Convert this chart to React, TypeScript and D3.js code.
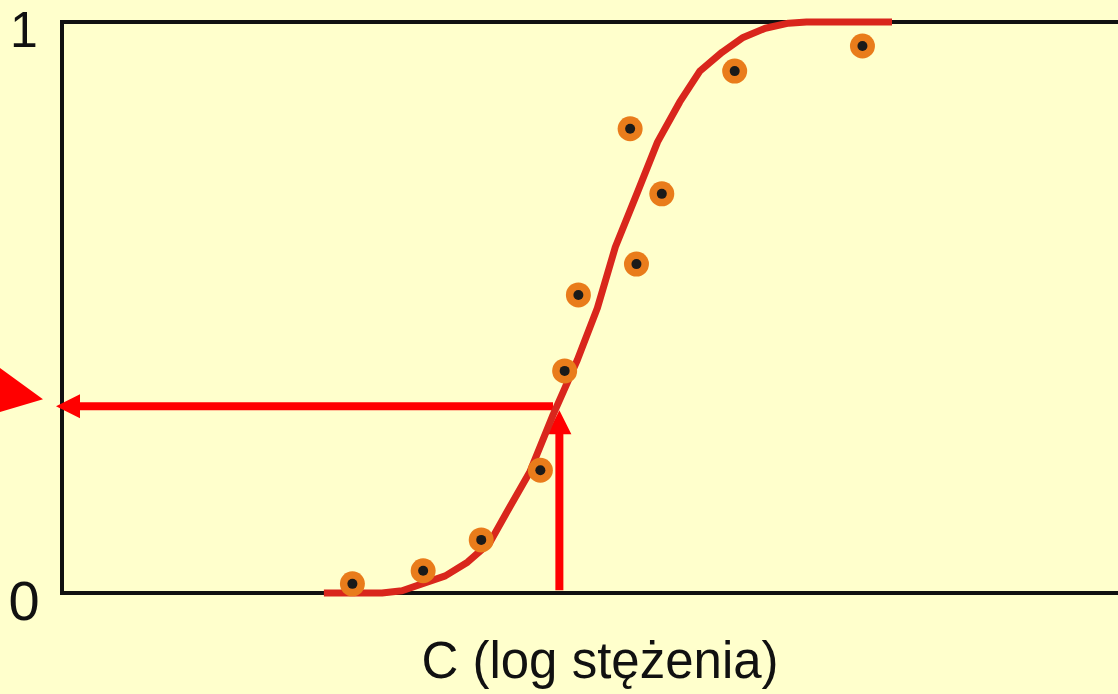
import React, { useEffect, useRef } from 'react';
import * as d3 from 'd3';

// measured points (log C, response)
const pointX = [2.75, 3.42, 3.97, 4.53, 4.76, 4.89, 5.44, 5.68, 5.38, 6.37, 7.58];
const pointY = [0.016, 0.039, 0.093, 0.215, 0.389, 0.522, 0.576, 0.699, 0.813, 0.914, 0.958];

// fitted curve (drawn as a polyline)
const curveX = [2.48, 3.03, 3.22, 3.63, 3.84, 4.05, 4.22, 4.43, 4.65, 4.88, 5.07, 5.24, 5.45, 5.64, 5.85, 6.04, 6.25, 6.45, 6.66, 6.88, 7.05, 7.86];
const curveY = [0, 0, 0.004, 0.03, 0.054, 0.088, 0.144, 0.212, 0.312, 0.408, 0.499, 0.606, 0.702, 0.79, 0.86, 0.914, 0.947, 0.973, 0.989, 0.998, 1, 1];

// read-off arrows
const readX = 4.71;
const readY = 0.327;

const yTicks = [0, 1];
const xLabel = 'C (log stężenia)';

const App = () => {
  const svgRef = useRef<SVGSVGElement>(null);

  useEffect(() => {
    document.body.style.margin = '0';
    document.body.style.background = '#FFFFCC';

    const width = 1118;
    const height = 694;
    const svg = d3.select(svgRef.current);
    svg.selectAll('*').remove();
    svg.attr('width', width).attr('height', height);

    const x = d3.scaleLinear().domain([0, 10]).range([62, 1118]);
    const y = d3.scaleLinear().domain([0, 1]).range([593, 22]);

    svg.append('rect')
      .attr('width', width).attr('height', height)
      .attr('fill', '#FFFFCC');

    // frame
    svg.append('path')
      .attr('d', `M${x(10) + 10},${y(1)} H${x(0)} V${y(0)} H${x(10) + 10}`)
      .attr('fill', 'none')
      .attr('stroke', '#111')
      .attr('stroke-width', 4);

    // tick labels
    const font = '"Liberation Sans", Arial, sans-serif';
    svg.selectAll('.ytick')
      .data(yTicks)
      .enter()
      .append('text')
      .attr('class', 'ytick')
      .attr('x', 24)
      .attr('y', d => y(d) + (d === 1 ? 25 : 27))
      .attr('text-anchor', 'middle')
      .attr('font-family', font)
      .attr('font-size', d => (d === 1 ? 50 : 56))
      .attr('fill', '#111')
      .text(d => d);

    svg.append('text')
      .attr('x', 600)
      .attr('y', 678)
      .attr('text-anchor', 'middle')
      .attr('font-family', font)
      .attr('font-size', 51)
      .attr('fill', '#111')
      .text(xLabel);

    // arrows
    const red = '#FF0000';
    const hy = y(readY);
    const vx = x(readX);
    svg.append('line')
      .attr('x1', x(4.65)).attr('x2', 76)
      .attr('y1', hy).attr('y2', hy)
      .attr('stroke', red).attr('stroke-width', 8);
    svg.append('path')
      .attr('d', `M56,${hy} L80,${hy - 12} L80,${hy + 12} Z`)
      .attr('fill', red);

    svg.append('line')
      .attr('x1', vx).attr('x2', vx)
      .attr('y1', y(0.005)).attr('y2', hy + 25)
      .attr('stroke', red).attr('stroke-width', 8);
    svg.append('path')
      .attr('d', `M${vx},${hy + 4} L${vx - 12},${hy + 28} L${vx + 12},${hy + 28} Z`)
      .attr('fill', red);

    // marker triangle at the left edge
    svg.append('path')
      .attr('d', `M-8,${hy - 44} L43,${hy - 7} L-8,${hy + 8} Z`)
      .attr('fill', red);

    // fitted curve
    const line = d3.line<number>()
      .x((_, i) => x(curveX[i]))
      .y(d => y(d))
      .curve(d3.curveLinear);

    svg.append('path')
      .datum(curveY)
      .attr('d', line)
      .attr('fill', 'none')
      .attr('stroke', '#D9261C')
      .attr('stroke-width', 7)
      .attr('stroke-linejoin', 'round');

    // data points
    const pts = svg.selectAll('.pt')
      .data(pointY)
      .enter()
      .append('g')
      .attr('class', 'pt')
      .attr('transform', (d, i) => `translate(${x(pointX[i])},${y(d)})`);

    pts.append('circle')
      .attr('r', 12.5)
      .attr('fill', '#E97C1B');
    pts.append('circle')
      .attr('r', 5)
      .attr('fill', '#1A1A1A');
  }, []);

  return (
    <svg ref={svgRef} style={{ position: 'absolute', left: 0, top: 0, display: 'block' }}></svg>
  );
};

export default App;
